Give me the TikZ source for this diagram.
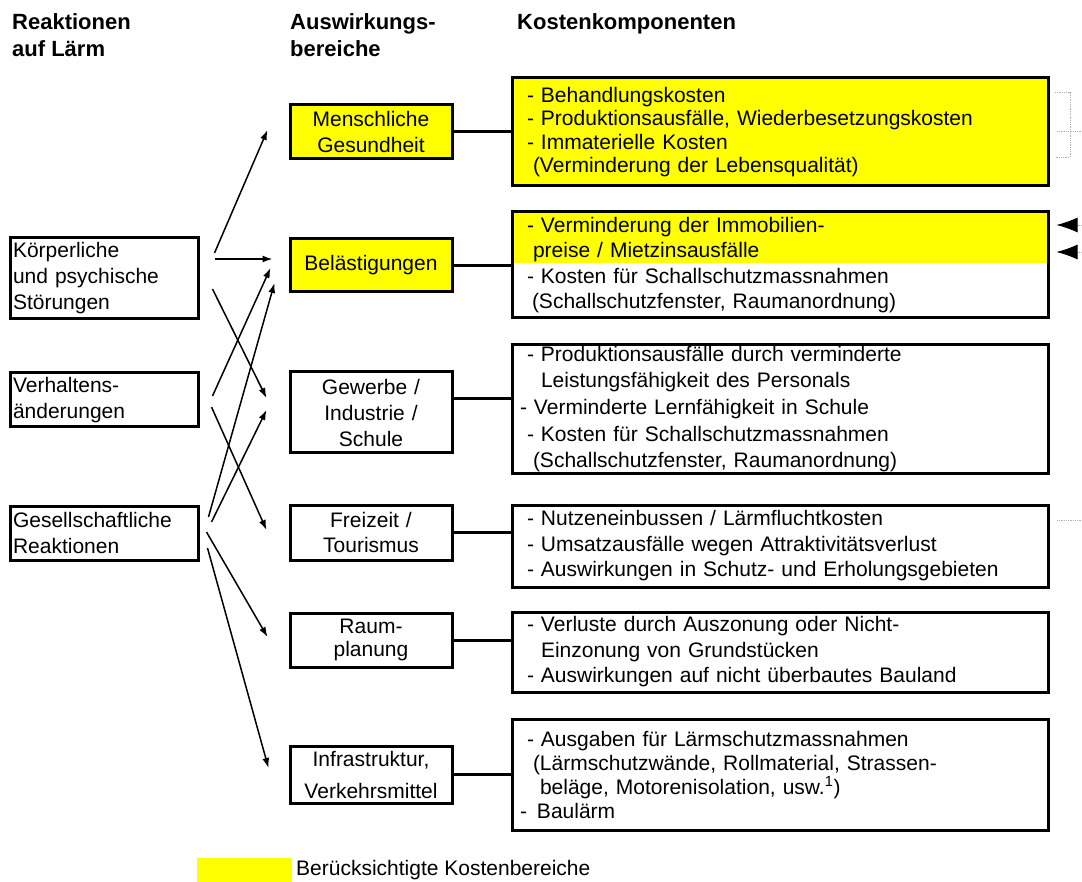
\documentclass[tikz,border=0pt]{standalone}
\usepackage{fontspec}
\setmainfont{Liberation Sans}
\usetikzlibrary{arrows.meta, positioning, backgrounds}
\definecolor{gelb}{RGB}{255,255,0}

\newcommand{\einr}[1]{\hspace*{#1pt}}

\tikzset{
  box/.style={draw, line width=3pt, inner ysep=0pt, font=\fontsize{21}{26}\selectfont},
  reaktion/.style={box, minimum width=188pt, text width=182pt, inner xsep=3pt, align=left},
  bereich/.style={box, minimum width=162pt, text width=156pt, inner xsep=3pt, align=center},
  kosten/.style={box, minimum width=536pt, text width=520pt, inner xsep=8pt, align=left},
  kopf/.style={inner sep=0pt, align=left, font=\bfseries\fontsize{22}{27}\selectfont},
  pfeil/.style={line width=1.5pt, -{Latex[length=10pt,width=7pt]}},
  verbindung/.style={line width=3pt},
  rest/.style={gray!60, densely dotted, line width=0.8pt}
}

\begin{document}
\begin{tikzpicture}[x=1pt, y=-1pt]
		\useasboundingbox (0,0) rectangle (1082,882);

		% Ueberschriften
		\node[kopf, anchor=base west] (hReak) at (12,57) {Reaktionen\\auf Lärm};
		\node[kopf, anchor=base west] (hAusw) at (290,57) {Auswirkungs-\\bereiche};
		\node[kopf, anchor=base west] (hKost) at (517,30) {Kostenkomponenten};

		% Reaktionen
		\draw (104,278.5) node[reaktion, minimum height=81pt] (koerper) {Körperliche\\und psychische\\Störungen}
		(104,400) node[reaktion, minimum height=54pt] (verhalten) {Verhaltens-\\änderungen}
		(104,533) node[reaktion, minimum height=54pt] (gesell) {Gesellschaftliche\\Reaktionen};

		% Auswirkungsbereiche
		\draw (371,132) node[bereich, fill=gelb, minimum height=54pt] (mensch) {Menschliche\\Gesundheit}
		(371,265.5) node[bereich, fill=gelb, minimum height=53pt] (belaest) {Belästigungen}
		(371,412.5) node[bereich, minimum height=81pt] (gewerbe) {Gewerbe /\\Industrie /\\Schule}
		(371,532.5) node[bereich, minimum height=55pt, font=\fontsize{21}{25}\selectfont] (freizeit) {Freizeit /\\Tourismus}
		(371,640) node[bereich, minimum height=54pt, font=\fontsize{21}{23}\selectfont] (raum) {\raisebox{-3pt}{Raum-}\\\raisebox{-3pt}{planung}}
		(371,774.5) node[bereich, minimum height=57pt, font=\fontsize{21}{32}\selectfont] (infra) {Infrastruktur,\\Verkehrsmittel};

		% Kostenkomponenten
		\draw (780,132) node[kosten, fill=gelb, minimum height=108pt, font=\fontsize{21}{23.3}\selectfont] (k1)
		{\einr{7}- Behandlungskosten\\
		 \einr{7}- Produktionsausfälle, Wiederbesetzungskosten\\
		 \einr{7}- Immaterielle Kosten\\
		 \einr{13}(Verminderung der Lebensqualität)}
		(780,265) node[kosten, minimum height=106pt, font=\fontsize{21}{25.6}\selectfont] (k2)
		{\einr{7}- Verminderung der Immobilien-\\
		 \einr{13}preise / Mietzinsausfälle\\
		 \einr{7}- Kosten für Schallschutzmassnahmen\\
		 \einr{12}(Schallschutzfenster, Raumanordnung)}
		(780,409) node[kosten, minimum height=128pt, font=\fontsize{21}{26.7}\selectfont] (k3)
		{\einr{7}- Produktionsausfälle durch verminderte\\
		 \einr{21}Leistungsfähigkeit des Personals\\
		 \einr{0}- Verminderte Lernfähigkeit in Schule\\
		 \einr{7}- Kosten für Schallschutzmassnahmen\\
		 \einr{13}(Schallschutzfenster, Raumanordnung)}
		(780,546) node[kosten, minimum height=82pt, font=\fontsize{21}{25.5}\selectfont] (k4)
		{\einr{7}- Nutzeneinbussen / Lärmfluchtkosten\\
		 \einr{7}- Umsatzausfälle wegen Attraktivitätsverlust\\
		 \einr{7}- Auswirkungen in Schutz- und Erholungsgebieten}
		(780,652) node[kosten, minimum height=80pt, font=\fontsize{21}{25.5}\selectfont] (k5)
		{\einr{7}- Verluste durch Auszonung oder Nicht-\\
		 \einr{21}Einzonung von Grundstücken\\
		 \einr{7}- Auswirkungen auf nicht überbautes Bauland}
		(780,774.5) node[kosten, minimum height=111pt, font=\fontsize{21}{24}\selectfont] (k6)
		{\einr{7}- Ausgaben für Lärmschutzmassnahmen\\
		 \einr{13}(Lärmschutzwände, Rollmaterial, Strassen-\\
		 \einr{20}beläge, Motorenisolation, usw.\textsuperscript{1})\\
		 \einr{0}-\einr{10}Baulärm};

		% gelber Teil von k2
		\begin{scope}[on background layer]
			\fill[gelb] (k2.north west) rectangle ([yshift=-53pt]k2.north east);
		\end{scope}

		% Reaktionen -> Auswirkungsbereiche
		\draw[pfeil] ([xshift=15pt, yshift=25.5pt]koerper.east) -- ([xshift=-21pt, yshift=2pt]mensch.west);
		\draw[pfeil] ([xshift=15pt, yshift=19.5pt]koerper.east) -- ([xshift=-16pt, yshift=6.5pt]belaest.west);
		\draw[pfeil] ([xshift=13pt, yshift=-10.5pt]koerper.east) -- ([xshift=-22pt, yshift=14.5pt]gewerbe.west);
		\draw[pfeil] ([xshift=13pt, yshift=4pt]verhalten.east) -- ([xshift=-18pt, yshift=-2.5pt]belaest.west);
		\draw[pfeil] ([xshift=12pt, yshift=-7pt]verhalten.east) -- ([xshift=-22pt, yshift=2.5pt]freizeit.west);
		\draw[pfeil] ([xshift=9pt, yshift=16pt]gesell.east) -- ([xshift=-14pt, yshift=-17.5pt]belaest.west);
		\draw[pfeil] ([xshift=12pt, yshift=11pt]gesell.east) -- ([xshift=-22pt, yshift=2.5pt]gewerbe.west);
		\draw[pfeil] ([xshift=7pt, yshift=1pt]gesell.east) -- ([xshift=-21pt, yshift=3pt]raum.west);
		\draw[pfeil] ([xshift=8pt, yshift=-15pt]gesell.east) -- ([xshift=-20pt, yshift=6.5pt]infra.west);

		% Auswirkungsbereiche -> Kosten
		\coordinate (gw) at ([yshift=13.5pt]gewerbe.east);
		\draw[verbindung] (mensch.east) -- (mensch.east -| k1.west);
		\draw[verbindung] (belaest.east) -- (belaest.east -| k2.west);
		\draw[verbindung] (gw) -- (gw -| k3.west);
		\draw[verbindung] (freizeit.east) -- (freizeit.east -| k4.west);
		\draw[verbindung] (raum.east) -- (raum.east -| k5.west);
		\draw[verbindung] (infra.east) -- (infra.east -| k6.west);

		% Reste am rechten Rand
		\coordinate (r1) at (1082,225);
		\coordinate (r2) at (1082,252);
		\draw[rest, shorten >=7pt, -{Latex[length=21pt,width=15pt,black]}] (r1) -- (r1 -| k2.east);
		\draw[rest, shorten >=7pt, -{Latex[length=21pt,width=15pt,black]}] (r2) -- (r2 -| k2.east);
		\draw[rest] (1055,92) -- (1070,92) -- (1070,157) -- (1055,157);
		\draw[rest] (1057,131) -- (1082,131);
		\draw[rest] (1057,520) -- (1082,520);

		% Legende
		\fill[gelb] (197,858) rectangle (292,882);
		\node[anchor=west, inner sep=0pt, font=\fontsize{21}{26}\selectfont] (legende) at (296,870) {Berücksichtigte Kostenbereiche};
	\end{tikzpicture}
\end{document}
